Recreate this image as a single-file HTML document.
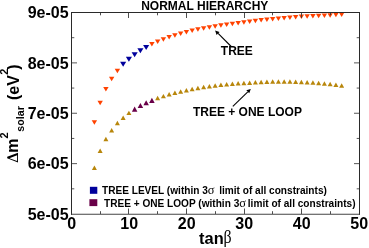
<!DOCTYPE html>
<html><head><meta charset="utf-8"><style>
html,body{margin:0;padding:0;background:#fff;}
body{width:369px;height:248px;overflow:hidden;}
svg{display:block;will-change:transform;}
text{font-family:"Liberation Sans",sans-serif;font-weight:bold;fill:#000;}
.sym{font-family:"Liberation Serif",serif;font-weight:normal;}
</style></head><body>
<svg width="369" height="248" viewBox="0 0 369 248">
<rect x="0" y="0" width="369" height="248" fill="#fff"/>
<defs><clipPath id="pc"><rect x="71.5" y="12.0" width="288.0" height="202.0"/></clipPath></defs>
<g clip-path="url(#pc)">
<polygon points="91.70,120.30 97.10,120.30 94.40,124.80" fill="#ff4200"/>
<polygon points="97.45,100.85 102.85,100.85 100.15,105.35" fill="#ff4200"/>
<polygon points="103.20,87.10 108.60,87.10 105.90,91.60" fill="#ff4200"/>
<polygon points="108.95,76.85 114.35,76.85 111.65,81.35" fill="#ff4200"/>
<polygon points="114.70,68.85 120.10,68.85 117.40,73.35" fill="#ff4200"/>
<polygon points="120.10,61.75 126.20,61.75 123.15,66.85" fill="#00009c"/>
<polygon points="125.85,56.75 131.95,56.75 128.90,61.85" fill="#00009c"/>
<polygon points="131.60,52.20 137.70,52.20 134.65,57.30" fill="#00009c"/>
<polygon points="137.35,48.20 143.45,48.20 140.40,53.30" fill="#00009c"/>
<polygon points="143.10,44.95 149.20,44.95 146.15,50.05" fill="#00009c"/>
<polygon points="149.20,42.10 154.60,42.10 151.90,46.60" fill="#ff4200"/>
<polygon points="154.95,39.60 160.35,39.60 157.65,44.10" fill="#ff4200"/>
<polygon points="160.70,37.35 166.10,37.35 163.40,41.85" fill="#ff4200"/>
<polygon points="166.45,35.10 171.85,35.10 169.15,39.60" fill="#ff4200"/>
<polygon points="172.20,33.35 177.60,33.35 174.90,37.85" fill="#ff4200"/>
<polygon points="177.95,31.60 183.35,31.60 180.65,36.10" fill="#ff4200"/>
<polygon points="183.70,30.10 189.10,30.10 186.40,34.60" fill="#ff4200"/>
<polygon points="189.45,28.60 194.85,28.60 192.15,33.10" fill="#ff4200"/>
<polygon points="195.20,27.35 200.60,27.35 197.90,31.85" fill="#ff4200"/>
<polygon points="200.95,26.35 206.35,26.35 203.65,30.85" fill="#ff4200"/>
<polygon points="206.70,25.35 212.10,25.35 209.40,29.85" fill="#ff4200"/>
<polygon points="212.45,24.35 217.85,24.35 215.15,28.85" fill="#ff4200"/>
<polygon points="218.20,23.35 223.60,23.35 220.90,27.85" fill="#ff4200"/>
<polygon points="223.95,22.60 229.35,22.60 226.65,27.10" fill="#ff4200"/>
<polygon points="229.70,21.85 235.10,21.85 232.40,26.35" fill="#ff4200"/>
<polygon points="235.45,21.10 240.85,21.10 238.15,25.60" fill="#ff4200"/>
<polygon points="241.20,20.35 246.60,20.35 243.90,24.85" fill="#ff4200"/>
<polygon points="246.95,19.60 252.35,19.60 249.65,24.10" fill="#ff4200"/>
<polygon points="252.70,18.85 258.10,18.85 255.40,23.35" fill="#ff4200"/>
<polygon points="258.45,18.10 263.85,18.10 261.15,22.60" fill="#ff4200"/>
<polygon points="264.20,17.60 269.60,17.60 266.90,22.10" fill="#ff4200"/>
<polygon points="269.95,17.10 275.35,17.10 272.65,21.60" fill="#ff4200"/>
<polygon points="275.70,16.60 281.10,16.60 278.40,21.10" fill="#ff4200"/>
<polygon points="281.45,16.10 286.85,16.10 284.15,20.60" fill="#ff4200"/>
<polygon points="287.20,15.60 292.60,15.60 289.90,20.10" fill="#ff4200"/>
<polygon points="292.95,15.10 298.35,15.10 295.65,19.60" fill="#ff4200"/>
<polygon points="298.70,14.60 304.10,14.60 301.40,19.10" fill="#ff4200"/>
<polygon points="304.45,14.35 309.85,14.35 307.15,18.85" fill="#ff4200"/>
<polygon points="310.20,14.10 315.60,14.10 312.90,18.60" fill="#ff4200"/>
<polygon points="315.95,13.85 321.35,13.85 318.65,18.35" fill="#ff4200"/>
<polygon points="321.70,13.60 327.10,13.60 324.40,18.10" fill="#ff4200"/>
<polygon points="327.45,13.35 332.85,13.35 330.15,17.85" fill="#ff4200"/>
<polygon points="333.20,12.85 338.60,12.85 335.90,17.35" fill="#ff4200"/>
<polygon points="338.95,12.60 344.35,12.60 341.65,17.10" fill="#ff4200"/>
<polygon points="91.90,169.95 96.90,169.95 94.40,165.55" fill="#b8860b"/>
<polygon points="97.65,152.95 102.65,152.95 100.15,148.55" fill="#b8860b"/>
<polygon points="103.40,141.20 108.40,141.20 105.90,136.80" fill="#b8860b"/>
<polygon points="109.15,132.45 114.15,132.45 111.65,128.05" fill="#b8860b"/>
<polygon points="114.90,125.20 119.90,125.20 117.40,120.80" fill="#b8860b"/>
<polygon points="120.65,119.95 125.65,119.95 123.15,115.55" fill="#b8860b"/>
<polygon points="126.40,115.05 131.40,115.05 128.90,110.65" fill="#b8860b"/>
<polygon points="131.90,111.80 137.40,111.80 134.65,106.60" fill="#690048"/>
<polygon points="137.65,108.10 143.15,108.10 140.40,102.90" fill="#690048"/>
<polygon points="143.40,105.35 148.90,105.35 146.15,100.15" fill="#690048"/>
<polygon points="149.15,102.90 154.65,102.90 151.90,97.70" fill="#690048"/>
<polygon points="155.15,100.20 160.15,100.20 157.65,95.80" fill="#b8860b"/>
<polygon points="160.90,98.35 165.90,98.35 163.40,93.95" fill="#b8860b"/>
<polygon points="166.65,96.45 171.65,96.45 169.15,92.05" fill="#b8860b"/>
<polygon points="172.40,94.95 177.40,94.95 174.90,90.55" fill="#b8860b"/>
<polygon points="178.15,93.70 183.15,93.70 180.65,89.30" fill="#b8860b"/>
<polygon points="183.90,92.45 188.90,92.45 186.40,88.05" fill="#b8860b"/>
<polygon points="189.65,91.20 194.65,91.20 192.15,86.80" fill="#b8860b"/>
<polygon points="195.40,90.20 200.40,90.20 197.90,85.80" fill="#b8860b"/>
<polygon points="201.15,89.20 206.15,89.20 203.65,84.80" fill="#b8860b"/>
<polygon points="206.90,88.45 211.90,88.45 209.40,84.05" fill="#b8860b"/>
<polygon points="212.65,87.70 217.65,87.70 215.15,83.30" fill="#b8860b"/>
<polygon points="218.40,86.95 223.40,86.95 220.90,82.55" fill="#b8860b"/>
<polygon points="224.15,86.45 229.15,86.45 226.65,82.05" fill="#b8860b"/>
<polygon points="229.90,85.95 234.90,85.95 232.40,81.55" fill="#b8860b"/>
<polygon points="235.65,85.45 240.65,85.45 238.15,81.05" fill="#b8860b"/>
<polygon points="241.40,85.20 246.40,85.20 243.90,80.80" fill="#b8860b"/>
<polygon points="247.15,84.95 252.15,84.95 249.65,80.55" fill="#b8860b"/>
<polygon points="252.90,84.45 257.90,84.45 255.40,80.05" fill="#b8860b"/>
<polygon points="258.65,84.20 263.65,84.20 261.15,79.80" fill="#b8860b"/>
<polygon points="264.40,83.95 269.40,83.95 266.90,79.55" fill="#b8860b"/>
<polygon points="270.15,83.70 275.15,83.70 272.65,79.30" fill="#b8860b"/>
<polygon points="275.90,83.70 280.90,83.70 278.40,79.30" fill="#b8860b"/>
<polygon points="281.65,83.70 286.65,83.70 284.15,79.30" fill="#b8860b"/>
<polygon points="287.40,83.70 292.40,83.70 289.90,79.30" fill="#b8860b"/>
<polygon points="293.15,83.95 298.15,83.95 295.65,79.55" fill="#b8860b"/>
<polygon points="298.90,84.20 303.90,84.20 301.40,79.80" fill="#b8860b"/>
<polygon points="304.65,84.45 309.65,84.45 307.15,80.05" fill="#b8860b"/>
<polygon points="310.40,84.70 315.40,84.70 312.90,80.30" fill="#b8860b"/>
<polygon points="316.15,85.20 321.15,85.20 318.65,80.80" fill="#b8860b"/>
<polygon points="321.90,85.70 326.90,85.70 324.40,81.30" fill="#b8860b"/>
<polygon points="327.65,86.20 332.65,86.20 330.15,81.80" fill="#b8860b"/>
<polygon points="333.40,86.95 338.40,86.95 335.90,82.55" fill="#b8860b"/>
<polygon points="339.15,87.70 344.15,87.70 341.65,83.30" fill="#b8860b"/>
</g>
<g stroke="#444" stroke-width="0.9" fill="none">
<line x1="71.5" y1="37.6875" x2="74.3" y2="37.6875"/><line x1="359.5" y1="37.6875" x2="356.7" y2="37.6875"/>
<line x1="71.5" y1="62.875" x2="77.0" y2="62.875"/><line x1="359.5" y1="62.875" x2="354.0" y2="62.875"/>
<line x1="71.5" y1="88.0625" x2="74.3" y2="88.0625"/><line x1="359.5" y1="88.0625" x2="356.7" y2="88.0625"/>
<line x1="71.5" y1="113.25" x2="77.0" y2="113.25"/><line x1="359.5" y1="113.25" x2="354.0" y2="113.25"/>
<line x1="71.5" y1="138.4375" x2="74.3" y2="138.4375"/><line x1="359.5" y1="138.4375" x2="356.7" y2="138.4375"/>
<line x1="71.5" y1="163.625" x2="77.0" y2="163.625"/><line x1="359.5" y1="163.625" x2="354.0" y2="163.625"/>
<line x1="71.5" y1="188.8125" x2="74.3" y2="188.8125"/><line x1="359.5" y1="188.8125" x2="356.7" y2="188.8125"/>
</g>
<g stroke="#3a3a3a" stroke-width="0.9" fill="none">
<line x1="100.50" y1="214.0" x2="100.50" y2="211.2"/><line x1="100.50" y1="12.5" x2="100.50" y2="15.3"/>
<line x1="128.50" y1="214.0" x2="128.50" y2="208.5"/><line x1="128.50" y1="12.5" x2="128.50" y2="18.0"/>
<line x1="157.50" y1="214.0" x2="157.50" y2="211.2"/><line x1="157.50" y1="12.5" x2="157.50" y2="15.3"/>
<line x1="186.50" y1="214.0" x2="186.50" y2="208.5"/><line x1="186.50" y1="12.5" x2="186.50" y2="18.0"/>
<line x1="215.50" y1="214.0" x2="215.50" y2="211.2"/><line x1="215.50" y1="12.5" x2="215.50" y2="15.3"/>
<line x1="244.50" y1="214.0" x2="244.50" y2="208.5"/><line x1="244.50" y1="12.5" x2="244.50" y2="18.0"/>
<line x1="272.50" y1="214.0" x2="272.50" y2="211.2"/><line x1="272.50" y1="12.5" x2="272.50" y2="15.3"/>
<line x1="301.50" y1="214.0" x2="301.50" y2="208.5"/><line x1="301.50" y1="12.5" x2="301.50" y2="18.0"/>
<line x1="330.50" y1="214.0" x2="330.50" y2="211.2"/><line x1="330.50" y1="12.5" x2="330.50" y2="15.3"/>
</g>
<g stroke="#2a2a2a" stroke-width="1" fill="none">
<line x1="71.0" y1="12.5" x2="360.0" y2="12.5" shape-rendering="crispEdges"/>
<line x1="71.5" y1="12.5" x2="71.5" y2="214.5" shape-rendering="crispEdges"/>
<line x1="359.5" y1="12.5" x2="359.5" y2="214.5" shape-rendering="crispEdges"/>
<line x1="71.0" y1="214.25" x2="360.0" y2="214.25" stroke="#444" stroke-width="1.2"/>
</g>
<text x="141.2" y="9.75" font-size="12">NORMAL HIERARCHY</text>
<text x="0" y="228.9" font-size="16" text-anchor="middle" transform="translate(71.70,0)">0</text>
<text x="0" y="228.9" font-size="16" text-anchor="middle" transform="translate(129.20,0)">10</text>
<text x="0" y="228.9" font-size="16" text-anchor="middle" transform="translate(186.70,0)">20</text>
<text x="0" y="228.9" font-size="16" text-anchor="middle" transform="translate(244.20,0)">30</text>
<text x="0" y="228.9" font-size="16" text-anchor="middle" transform="translate(301.70,0)">40</text>
<text x="0" y="228.9" font-size="16" text-anchor="middle" transform="translate(359.20,0)">50</text>
<text x="68.6" y="18.25" font-size="16" text-anchor="end">9e-05</text>
<text x="68.6" y="68.62" font-size="16" text-anchor="end">8e-05</text>
<text x="68.6" y="119.00" font-size="16" text-anchor="end">7e-05</text>
<text x="68.6" y="169.38" font-size="16" text-anchor="end">6e-05</text>
<text x="68.6" y="219.75" font-size="16" text-anchor="end">5e-05</text>
<text x="220.8" y="55" font-size="12">TREE</text>
<text x="192.9" y="115.5" font-size="12">TREE + ONE LOOP</text>
<line x1="231.2" y1="46.5" x2="218.08" y2="33.46" stroke="#000" stroke-width="1.1"/><polygon points="215.1,30.5 219.56,31.97 216.60,34.95" fill="#000"/><line x1="232.85" y1="106.3" x2="247.78" y2="91.82" stroke="#000" stroke-width="1.1"/><polygon points="250.8,88.9 249.25,93.33 246.32,90.32" fill="#000"/>
<rect x="89.9" y="186.8" width="7.4" height="7" fill="#00009c"/>
<rect x="89.4" y="199.2" width="7.9" height="6.9" fill="#690048"/>
<text x="102" y="193.8" font-size="10.1" xml:space="preserve">TREE LEVEL (within 3<tspan class="sym" font-size="12.5">σ</tspan><tspan dx="-1">  limit</tspan> of all constraints)</text>
<text x="104" y="207.4" font-size="10.1" xml:space="preserve">TREE + ONE LOOP (within 3<tspan class="sym" font-size="12.5">σ</tspan><tspan dx="-1"> limit</tspan> of all constraints)</text>
<text x="199.1" y="244.2" font-size="17" textLength="24.6" lengthAdjust="spacingAndGlyphs">tan</text><text x="0" y="242.9" font-size="18.5" class="sym" transform="translate(223.5,0) scale(0.86,1)">β</text>
<g transform="rotate(-90)">
<path d="M-162.4,18 L-158.3,7.2 L-156.8,7.2 L-152.7,18 Z M-161.0,17.1 L-155.2,17.1 L-158.2,9.4 Z" fill="#000" fill-rule="evenodd"/>
<text x="-152.8" y="17.7" font-size="16">m</text>
<text x="-138.4" y="8" font-size="11">2</text>
<text x="-131.7" y="24" font-size="10.7">solar</text>
<text x="-100.0" y="19.3" font-size="16">(eV</text>
<text x="-74.8" y="8" font-size="11">2</text>
<text x="-69.8" y="19.3" font-size="16">)</text>
</g>
</svg>
</body></html>
